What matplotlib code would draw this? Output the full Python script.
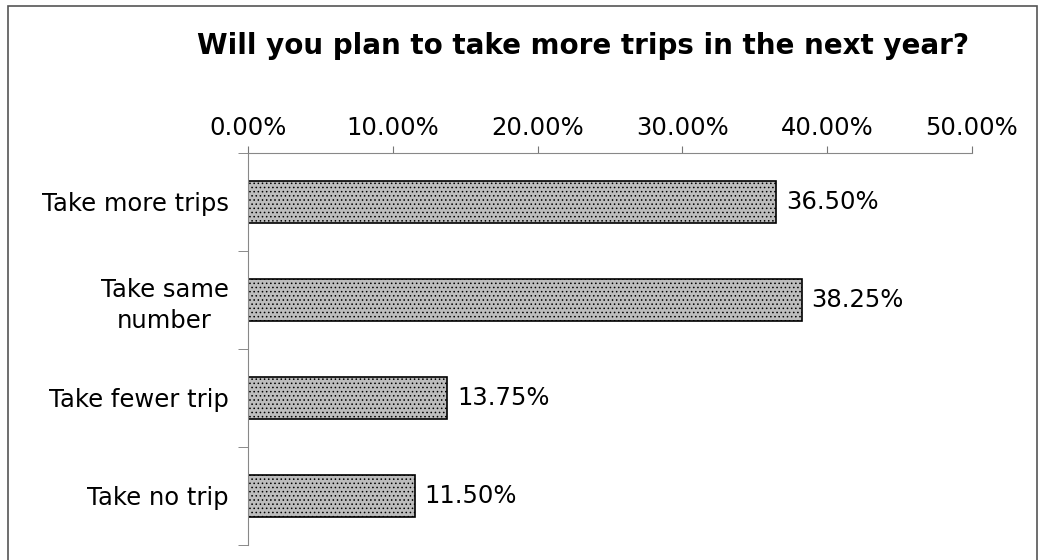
import matplotlib.pyplot as plt
from matplotlib.patches import Rectangle

categories = ["Take more trips", "Take same\nnumber", "Take fewer trip", "Take no trip"]
values = [36.50, 38.25, 13.75, 11.50]
xticks = [0, 10, 20, 30, 40, 50]

plt.rcParams['hatch.color'] = '#a2a2a2'
plt.rcParams['hatch.linewidth'] = 0.6

fig = plt.figure(figsize=(10.4, 5.6), dpi=100)
ax = fig.add_axes([0.2385, 0.0268, 0.696, 0.70])

# outer frame
fig.patches.append(Rectangle((0.008, -0.01), 0.989, 1.0, transform=fig.transFigure,
                             fill=False, edgecolor="#555555", linewidth=1.2))

ypos = list(range(len(categories)))
ax.barh(ypos, values, height=0.42, color="#bdbdbd", edgecolor="black",
        linewidth=1.2, hatch="....")
for y, v in zip(ypos, values):
    ax.annotate(f"{v:.2f}%", (v, y), xytext=(7, 0), textcoords="offset points",
                va="center", ha="left", fontsize=17.5)

ax.set_xlim(0, 50)
ax.set_ylim(len(categories) - 0.5, -0.5)
ax.set_xticks(xticks)
ax.set_xticklabels([f"{t:.2f}%" for t in xticks], fontsize=17.5)
ax.xaxis.tick_top()
ax.tick_params(axis="x", direction="out", length=5, pad=4, color="#777777")

ax.set_yticks(ypos)
ax.set_yticklabels(categories, fontsize=17.5)
ax.set_yticks([i - 0.5 for i in range(len(categories) + 1)], minor=True)
ax.tick_params(axis="y", which="major", length=0, pad=14)
ax.tick_params(axis="y", which="minor", direction="out", length=7, color="#777777")
for lbl in ax.get_yticklabels():
    lbl.set_multialignment("center")
    lbl.set_linespacing(1.35)

for s in ["right", "bottom"]:
    ax.spines[s].set_visible(False)
for s in ["left", "top"]:
    ax.spines[s].set_color("#888888")

fig.text(0.561, 0.918, "Will you plan to take more trips in the next year?",
         ha="center", va="center", fontsize=20, fontweight="bold")

fig.savefig("out.png", dpi=100)
